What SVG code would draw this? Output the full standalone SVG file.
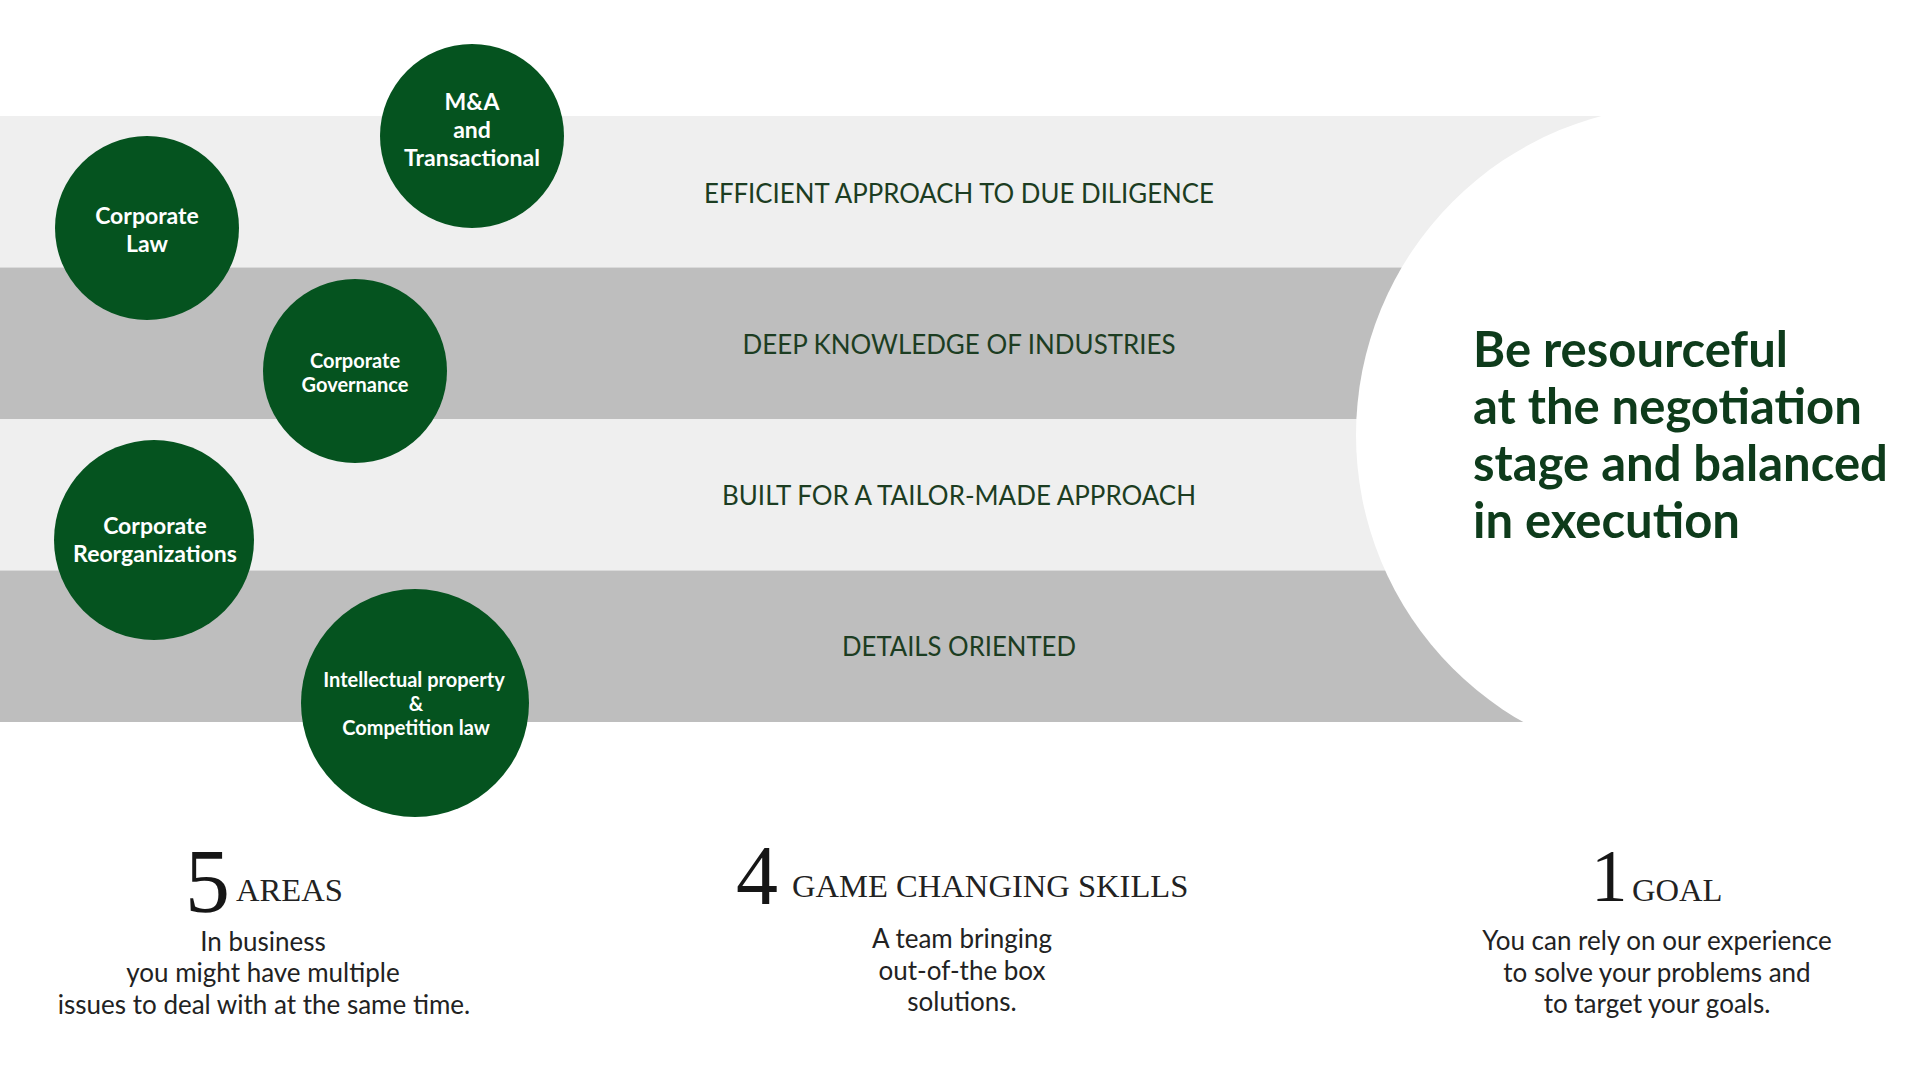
<svg xmlns="http://www.w3.org/2000/svg" width="1920" height="1080" viewBox="0 0 1920 1080">
  <style>
    .band-light { fill: #efefef; }
    .band-dark { fill: #bebebe; }
    .band-text { font-family: Lato, "Liberation Sans", sans-serif; font-size: 27px; font-weight: 400; fill: #1c3d22; text-anchor: middle; }
    .bubble { fill: #05531f; }
    .bubble-text { font-family: Lato, "Liberation Sans", sans-serif; font-weight: 700; fill: #ffffff; text-anchor: middle; }
    .big { font-size: 23px; }
    .small { font-size: 20px; }
    .title { font-family: Lato, "Liberation Sans", sans-serif; font-size: 49px; font-weight: 700; fill: #0e3b1b; }
    .num { font-family: "Liberation Serif", serif; fill: #161616; }
    .head { font-family: "Liberation Serif", serif; font-size: 32.6px; fill: #222222; }
    .body { font-family: Lato, "Liberation Sans", sans-serif; font-size: 26px; font-weight: 400; fill: #222222; text-anchor: middle; }
  </style>
  <rect x="0" y="0" width="1920" height="1080" fill="#ffffff"/>

  <g id="bands">
    <rect class="band-light" x="0" y="116" width="1700" height="151.5"/>
    <rect class="band-dark" x="0" y="267.5" width="1700" height="151.5"/>
    <rect class="band-light" x="0" y="419" width="1700" height="151.5"/>
    <rect class="band-dark" x="0" y="570.5" width="1700" height="151.5"/>
    <circle cx="1686" cy="435" r="330" fill="#ffffff"/>
  </g>

  <g id="band-labels">
    <text class="band-text" x="959" y="203" textLength="510" lengthAdjust="spacingAndGlyphs">EFFICIENT APPROACH TO DUE DILIGENCE</text>
    <text class="band-text" x="959" y="354" textLength="433" lengthAdjust="spacingAndGlyphs">DEEP KNOWLEDGE OF INDUSTRIES</text>
    <text class="band-text" x="959" y="505" textLength="474" lengthAdjust="spacingAndGlyphs">BUILT FOR A TAILOR-MADE APPROACH</text>
    <text class="band-text" x="959" y="656" textLength="234" lengthAdjust="spacingAndGlyphs">DETAILS ORIENTED</text>
  </g>

  <g id="node-ma">
    <circle class="bubble" cx="472" cy="136" r="92"/>
    <text class="bubble-text big" x="472" y="110">M&amp;A</text>
    <text class="bubble-text big" x="472" y="138">and</text>
    <text class="bubble-text big" x="472" y="166">Transactional</text>
  </g>
  <g id="node-corporate-law">
    <circle class="bubble" cx="147" cy="228" r="92"/>
    <text class="bubble-text big" x="147" y="224">Corporate</text>
    <text class="bubble-text big" x="147" y="252">Law</text>
  </g>
  <g id="node-governance">
    <circle class="bubble" cx="355" cy="371" r="92"/>
    <text class="bubble-text small" x="355" y="368">Corporate</text>
    <text class="bubble-text small" x="355" y="392">Governance</text>
  </g>
  <g id="node-reorganizations">
    <circle class="bubble" cx="154" cy="540" r="100"/>
    <text class="bubble-text big" x="155" y="534">Corporate</text>
    <text class="bubble-text big" x="155" y="562">Reorganizations</text>
  </g>
  <g id="node-ip">
    <circle class="bubble" cx="415" cy="703" r="114"/>
    <text class="bubble-text small" x="414" y="687">Intellectual property</text>
    <text class="bubble-text small" x="416" y="711">&amp;</text>
    <text class="bubble-text small" x="416" y="735">Competition law</text>
  </g>

  <g id="headline">
    <text class="title" x="1473" y="366.5">Be resourceful</text>
    <text class="title" x="1473" y="423.5">at the negotiation</text>
    <text class="title" x="1473" y="480.5">stage and balanced</text>
    <text class="title" x="1473" y="537.5">in execution</text>
  </g>

  <g id="stat-areas">
    <text class="num" x="185" y="912" font-size="90">5</text>
    <text class="head" x="236" y="901">AREAS</text>
    <text class="body" x="263" y="951">In business</text>
    <text class="body" x="263" y="982">you might have multiple</text>
    <text class="body" x="264" y="1014">issues to deal with at the same time.</text>
  </g>
  <g id="stat-skills">
    <text class="num" x="736" y="904" font-size="84">4</text>
    <text class="head" x="792" y="897">GAME CHANGING SKILLS</text>
    <text class="body" x="962" y="948">A team bringing</text>
    <text class="body" x="962" y="980">out-of-the box</text>
    <text class="body" x="962" y="1011">solutions.</text>
  </g>
  <g id="stat-goal">
    <text class="num" x="1591" y="901" font-size="73">1</text>
    <text class="head" x="1632" y="901">GOAL</text>
    <text class="body" x="1657" y="950">You can rely on our experience</text>
    <text class="body" x="1657" y="982">to solve your problems and</text>
    <text class="body" x="1657" y="1013">to target your goals.</text>
  </g>
</svg>
